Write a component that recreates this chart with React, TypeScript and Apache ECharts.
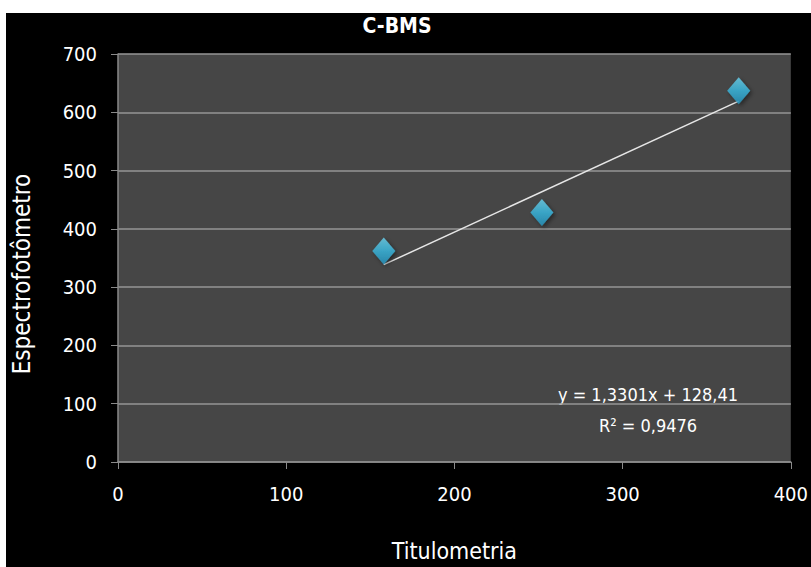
import React, { useEffect, useRef } from "react";
import * as echarts from "echarts";

const titleText = "C-BMS";
const xAxisName = "Titulometria";
const yAxisName = "Espectrofotômetro";
const xValues = [158, 252, 369];
const yValues = [362, 428, 637];
const trendX = [158, 369];
const trendSlope = 1.3301;
const trendIntercept = 128.41;
const equationLines = ["y = 1,3301x + 128,41", "R² = 0,9476"];

const FONT = "'Liberation Sans Narrow', 'DejaVu Sans Condensed', 'Open Sans', sans-serif";

export default function App() {
  const ref = useRef<HTMLDivElement>(null);
  useEffect(() => {
    if (!ref.current) return;
    const chart = echarts.init(ref.current, undefined, { renderer: "svg" });
    const points = xValues.map((x, i) => [x, yValues[i]]);
    const trend = trendX.map((x) => [x, trendSlope * x + trendIntercept]);
    chart.setOption({
      animation: false,
      backgroundColor: "#000000",
      textStyle: { fontFamily: FONT },
      title: {
        text: titleText,
        left: 392,
        top: 10,
        textAlign: "center",
        textStyle: { color: "#ffffff", fontSize: 21, fontWeight: "bold", fontFamily: FONT },
      },
      graphic: [
        { type: "rect", shape: { x: 0, y: 0, width: 811, height: 13 }, style: { fill: "#ffffff" }, z: 10 },
        { type: "rect", shape: { x: 0, y: 0, width: 6, height: 567 }, style: { fill: "#ffffff" }, z: 10 },
        {
          type: "text",
          x: 22,
          y: 274,
          rotation: Math.PI / 2,
          style: {
            text: yAxisName,
            fill: "#ffffff",
            fontSize: 24,
            fontFamily: FONT,
            align: "center",
            verticalAlign: "middle",
          },
        },
        {
          type: "text",
          x: 648,
          y: 394,
          style: {
            text: equationLines[0],
            fill: "#ffffff",
            fontSize: 18,
            fontFamily: FONT,
            align: "center",
            verticalAlign: "middle",
          },
        },
        {
          type: "text",
          x: 648,
          y: 425,
          style: {
            text: equationLines[1],
            fill: "#ffffff",
            fontSize: 18,
            fontFamily: FONT,
            align: "center",
            verticalAlign: "middle",
          },
        },
      ],
      grid: {
        left: 118,
        top: 54,
        width: 676,
        height: 416,
        show: true,
        backgroundColor: "#464646",
        borderWidth: 0,
      },
      xAxis: {
        type: "value",
        min: 0,
        max: 400,
        interval: 100,
        name: xAxisName,
        nameLocation: "middle",
        nameGap: 77,
        nameTextStyle: { color: "#ffffff", fontSize: 23, fontFamily: FONT },
        axisLine: { show: true, lineStyle: { color: "#8a8a8a", width: 1.5 } },
        axisTick: { show: true, inside: false, length: 7, lineStyle: { color: "#8a8a8a" } },
        axisLabel: { color: "#ffffff", fontSize: 20, margin: 22, fontFamily: FONT },
        splitLine: { show: false },
      },
      yAxis: {
        type: "value",
        min: 0,
        max: 700,
        interval: 100,
        axisLine: { show: true, lineStyle: { color: "#8a8a8a", width: 1.5 } },
        axisTick: { show: true, inside: false, length: 7, lineStyle: { color: "#8a8a8a" } },
        axisLabel: { color: "#ffffff", fontSize: 20, margin: 21, fontFamily: FONT },
        splitLine: { show: true, lineStyle: { color: "#969696", width: 1.5 } },
      },
      series: [
        {
          type: "line",
          data: trend,
          symbol: "none",
          lineStyle: { color: "#e6e6e6", width: 1.5 },
          z: 2,
        },
        {
          type: "scatter",
          data: points,
          symbol: "diamond",
          symbolSize: [23, 27],
          itemStyle: {
            color: new echarts.graphic.LinearGradient(0, 0, 0, 1, [
              { offset: 0, color: "#6cd6f3" },
              { offset: 0.5, color: "#3bb8df" },
              { offset: 1, color: "#2694be" },
            ]),
            shadowColor: "rgba(0,0,0,0.55)",
            shadowBlur: 4,
            shadowOffsetX: 2,
            shadowOffsetY: 2,
          },
          z: 3,
        },
      ],
    });
    return () => chart.dispose();
  }, []);
  return (
    <div
      ref={ref}
      style={{ position: "absolute", left: 0, top: 0, width: 811, height: 567 }}
    />
  );
}
